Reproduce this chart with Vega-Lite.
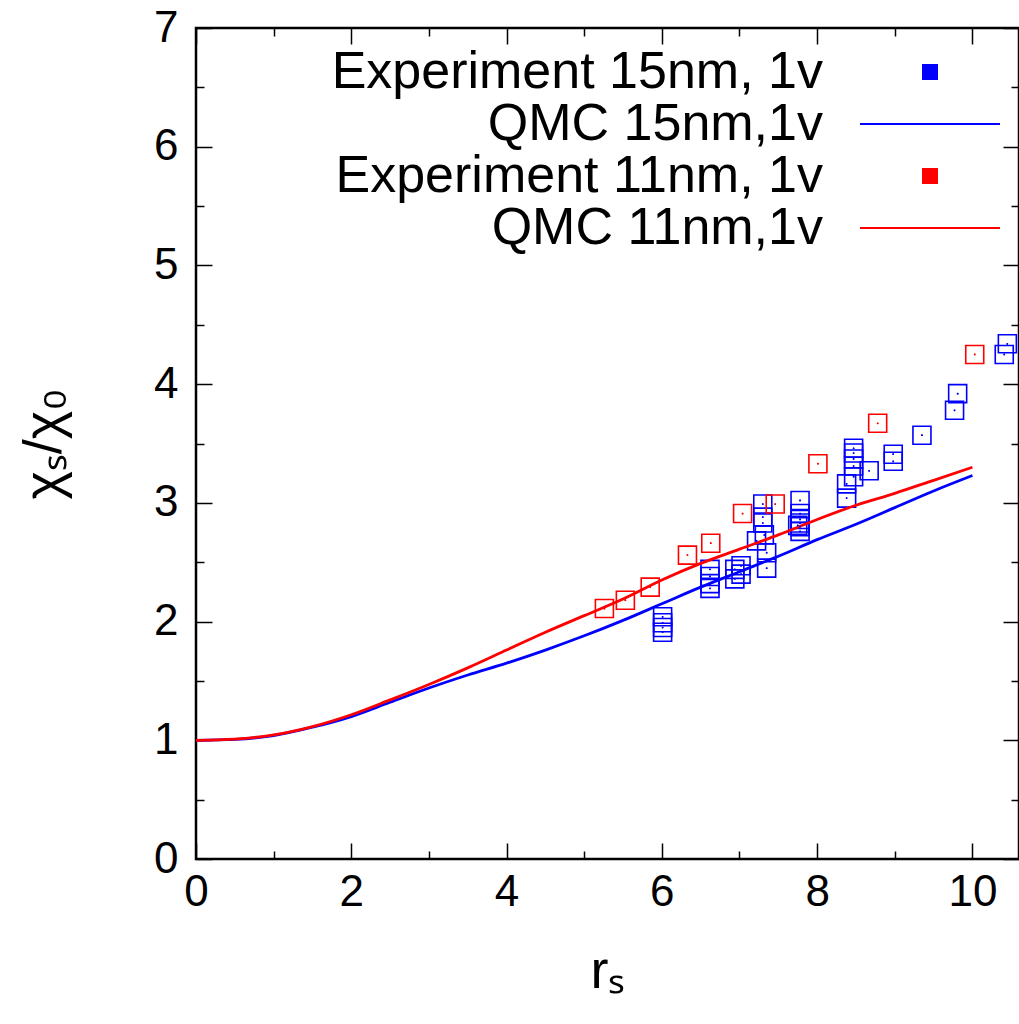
{
  "$schema": "https://vega.github.io/schema/vega-lite/v6.json",
  "width": 823,
  "height": 831,
  "autosize": {"type": "none"},
  "padding": {"left": 196, "top": 28, "right": 0, "bottom": 165},
  "background": "white",
  "config": {
    "view": {"stroke": "black", "strokeWidth": 2.5},
    "font": "Liberation Sans",
    "axis": {"grid": false, "domain": false, "tickColor": "black", "tickWidth": 1.5, "labelColor": "black", "titleColor": "black", "labelFont": "Liberation Sans", "titleFont": "Liberation Sans", "titleFontWeight": "normal", "labelFlush": false, "labelOverlap": false}
  },
  "datasets": {
    "qmc": [
      {"series": "QMC 15nm,1v", "r": 0, "chi": 1.0},
      {"series": "QMC 15nm,1v", "r": 0.5, "chi": 1.008},
      {"series": "QMC 15nm,1v", "r": 1, "chi": 1.04},
      {"series": "QMC 15nm,1v", "r": 1.5, "chi": 1.11},
      {"series": "QMC 15nm,1v", "r": 2, "chi": 1.2},
      {"series": "QMC 15nm,1v", "r": 2.5, "chi": 1.32},
      {"series": "QMC 15nm,1v", "r": 3, "chi": 1.44},
      {"series": "QMC 15nm,1v", "r": 3.5, "chi": 1.55},
      {"series": "QMC 15nm,1v", "r": 4, "chi": 1.65},
      {"series": "QMC 15nm,1v", "r": 4.5, "chi": 1.76},
      {"series": "QMC 15nm,1v", "r": 5, "chi": 1.88},
      {"series": "QMC 15nm,1v", "r": 5.5, "chi": 2.01},
      {"series": "QMC 15nm,1v", "r": 6, "chi": 2.15},
      {"series": "QMC 15nm,1v", "r": 6.5, "chi": 2.29},
      {"series": "QMC 15nm,1v", "r": 7, "chi": 2.42},
      {"series": "QMC 15nm,1v", "r": 7.5, "chi": 2.55},
      {"series": "QMC 15nm,1v", "r": 8, "chi": 2.69},
      {"series": "QMC 15nm,1v", "r": 8.5, "chi": 2.82},
      {"series": "QMC 15nm,1v", "r": 9, "chi": 2.96},
      {"series": "QMC 15nm,1v", "r": 9.5, "chi": 3.1},
      {"series": "QMC 15nm,1v", "r": 10, "chi": 3.23},
      {"series": "QMC 11nm,1v", "r": 0, "chi": 1.0},
      {"series": "QMC 11nm,1v", "r": 0.5, "chi": 1.01},
      {"series": "QMC 11nm,1v", "r": 1, "chi": 1.045},
      {"series": "QMC 11nm,1v", "r": 1.5, "chi": 1.115},
      {"series": "QMC 11nm,1v", "r": 2, "chi": 1.215},
      {"series": "QMC 11nm,1v", "r": 2.5, "chi": 1.34},
      {"series": "QMC 11nm,1v", "r": 3, "chi": 1.47},
      {"series": "QMC 11nm,1v", "r": 3.5, "chi": 1.61},
      {"series": "QMC 11nm,1v", "r": 4, "chi": 1.76},
      {"series": "QMC 11nm,1v", "r": 4.5, "chi": 1.91},
      {"series": "QMC 11nm,1v", "r": 5, "chi": 2.05},
      {"series": "QMC 11nm,1v", "r": 5.5, "chi": 2.19},
      {"series": "QMC 11nm,1v", "r": 6, "chi": 2.35},
      {"series": "QMC 11nm,1v", "r": 6.5, "chi": 2.49},
      {"series": "QMC 11nm,1v", "r": 7, "chi": 2.61},
      {"series": "QMC 11nm,1v", "r": 7.5, "chi": 2.73},
      {"series": "QMC 11nm,1v", "r": 8, "chi": 2.86},
      {"series": "QMC 11nm,1v", "r": 8.5, "chi": 2.98},
      {"series": "QMC 11nm,1v", "r": 9, "chi": 3.08},
      {"series": "QMC 11nm,1v", "r": 9.5, "chi": 3.19},
      {"series": "QMC 11nm,1v", "r": 10, "chi": 3.3}
    ],
    "exp": [
      {"series": "Experiment 15nm, 1v", "r": 6.01, "chi": 2.04},
      {"series": "Experiment 15nm, 1v", "r": 6.01, "chi": 1.99},
      {"series": "Experiment 15nm, 1v", "r": 6.01, "chi": 1.95},
      {"series": "Experiment 15nm, 1v", "r": 6.01, "chi": 1.91},
      {"series": "Experiment 15nm, 1v", "r": 6.62, "chi": 2.44},
      {"series": "Experiment 15nm, 1v", "r": 6.62, "chi": 2.38},
      {"series": "Experiment 15nm, 1v", "r": 6.62, "chi": 2.32},
      {"series": "Experiment 15nm, 1v", "r": 6.62, "chi": 2.28},
      {"series": "Experiment 15nm, 1v", "r": 6.94, "chi": 2.44},
      {"series": "Experiment 15nm, 1v", "r": 6.94, "chi": 2.36},
      {"series": "Experiment 15nm, 1v", "r": 7.02, "chi": 2.47},
      {"series": "Experiment 15nm, 1v", "r": 7.02, "chi": 2.4},
      {"series": "Experiment 15nm, 1v", "r": 7.22, "chi": 2.68},
      {"series": "Experiment 15nm, 1v", "r": 7.3, "chi": 2.99},
      {"series": "Experiment 15nm, 1v", "r": 7.3, "chi": 2.88},
      {"series": "Experiment 15nm, 1v", "r": 7.3, "chi": 2.83},
      {"series": "Experiment 15nm, 1v", "r": 7.32, "chi": 2.73},
      {"series": "Experiment 15nm, 1v", "r": 7.35, "chi": 2.58},
      {"series": "Experiment 15nm, 1v", "r": 7.35, "chi": 2.45},
      {"series": "Experiment 15nm, 1v", "r": 7.78, "chi": 3.02},
      {"series": "Experiment 15nm, 1v", "r": 7.78, "chi": 2.91},
      {"series": "Experiment 15nm, 1v", "r": 7.78, "chi": 2.86},
      {"series": "Experiment 15nm, 1v", "r": 7.78, "chi": 2.83},
      {"series": "Experiment 15nm, 1v", "r": 7.78, "chi": 2.8},
      {"series": "Experiment 15nm, 1v", "r": 7.78, "chi": 2.76},
      {"series": "Experiment 15nm, 1v", "r": 7.75, "chi": 2.81},
      {"series": "Experiment 15nm, 1v", "r": 8.38, "chi": 3.16},
      {"series": "Experiment 15nm, 1v", "r": 8.38, "chi": 3.04},
      {"series": "Experiment 15nm, 1v", "r": 8.47, "chi": 3.46},
      {"series": "Experiment 15nm, 1v", "r": 8.47, "chi": 3.42},
      {"series": "Experiment 15nm, 1v", "r": 8.47, "chi": 3.37},
      {"series": "Experiment 15nm, 1v", "r": 8.47, "chi": 3.31},
      {"series": "Experiment 15nm, 1v", "r": 8.47, "chi": 3.22},
      {"series": "Experiment 15nm, 1v", "r": 8.67, "chi": 3.27},
      {"series": "Experiment 15nm, 1v", "r": 8.98, "chi": 3.41},
      {"series": "Experiment 15nm, 1v", "r": 8.98, "chi": 3.35},
      {"series": "Experiment 15nm, 1v", "r": 9.35, "chi": 3.57},
      {"series": "Experiment 15nm, 1v", "r": 9.77, "chi": 3.78},
      {"series": "Experiment 15nm, 1v", "r": 9.81, "chi": 3.92},
      {"series": "Experiment 15nm, 1v", "r": 10.41, "chi": 4.25},
      {"series": "Experiment 15nm, 1v", "r": 10.45, "chi": 4.34},
      {"series": "Experiment 11nm, 1v", "r": 5.26, "chi": 2.11},
      {"series": "Experiment 11nm, 1v", "r": 5.53, "chi": 2.18},
      {"series": "Experiment 11nm, 1v", "r": 5.85, "chi": 2.29},
      {"series": "Experiment 11nm, 1v", "r": 6.33, "chi": 2.56},
      {"series": "Experiment 11nm, 1v", "r": 6.63, "chi": 2.66},
      {"series": "Experiment 11nm, 1v", "r": 7.04, "chi": 2.91},
      {"series": "Experiment 11nm, 1v", "r": 7.46, "chi": 2.99},
      {"series": "Experiment 11nm, 1v", "r": 8.01, "chi": 3.33},
      {"series": "Experiment 11nm, 1v", "r": 8.78, "chi": 3.67},
      {"series": "Experiment 11nm, 1v", "r": 10.03, "chi": 4.25}
    ]
  },
  "resolve": {"axis": {"x": "independent", "y": "independent"}},
  "layer": [
    {
      "data": {"name": "exp"},
      "mark": {"type": "point", "filled": false, "size": 324, "strokeWidth": 1.6, "opacity": 1, "clip": true},
      "encoding": {
        "x": {"field": "r", "type": "quantitative", "scale": {"domain": [0, 10.6], "nice": false, "zero": false},
          "axis": {"orient": "bottom", "values": [0, 2, 4, 6, 8, 10], "format": "d", "tickSize": -16, "labelFontSize": 44, "labelPadding": 27, "title": "rₛ", "titleFontSize": 54, "titlePadding": 30}},
        "y": {"field": "chi", "type": "quantitative", "scale": {"domain": [0, 7], "nice": false, "zero": false},
          "axis": {"orient": "left", "values": [0, 1, 2, 3, 4, 5, 6, 7], "format": "d", "tickSize": -16, "labelFontSize": 44, "labelPadding": 34, "title": "χₛ/χ₀", "titleFontSize": 54, "titlePadding": 82}},
        "stroke": {"field": "series", "type": "nominal",
          "scale": {"domain": ["Experiment 15nm, 1v", "QMC 15nm,1v", "Experiment 11nm, 1v", "QMC 11nm,1v"], "range": ["#0000ff", "#0000ff", "#ff0000", "#ff0000"]},
          "legend": {"orient": "none", "legendX": 708, "legendY": 18, "title": null, "padding": 0, "labelFont": "Liberation Sans", "labelFontSize": 52, "labelColor": "black", "labelAlign": "right", "labelOffset": -133, "labelLimit": 2000, "rowPadding": 0, "symbolSize": 196, "symbolStrokeWidth": 2, "symbolFillColor": "transparent"}},
        "shape": {"field": "series", "type": "nominal",
          "scale": {"domain": ["Experiment 15nm, 1v", "QMC 15nm,1v", "Experiment 11nm, 1v", "QMC 11nm,1v"], "range": ["square", "M -10 0 L 10 0", "square", "M -10 0 L 10 0"]},
          "legend": {"orient": "none", "legendX": 708, "legendY": 18, "title": null, "padding": 0, "labelFont": "Liberation Sans", "labelFontSize": 52, "labelColor": "black", "labelAlign": "right", "labelOffset": -133, "labelLimit": 2000, "rowPadding": 0, "symbolSize": 196, "symbolStrokeWidth": 2, "symbolFillColor": "transparent"}}
      }
    },
    {
      "data": {"name": "qmc"},
      "mark": {"type": "line", "strokeWidth": 2.8, "clip": true, "interpolate": "monotone"},
      "encoding": {
        "x": {"field": "r", "type": "quantitative", "axis": {"orient": "bottom", "values": [1, 3, 5, 7, 9], "tickSize": -8, "labels": false, "title": null}},
        "y": {"field": "chi", "type": "quantitative", "axis": {"orient": "left", "values": [0.5, 1.5, 2.5, 3.5, 4.5, 5.5, 6.5], "tickSize": -8, "labels": false, "title": null}},
        "stroke": {"field": "series", "type": "nominal"}
      }
    },
    {
      "data": {"name": "exp"},
      "mark": {"type": "point", "shape": "circle", "filled": true, "size": 3, "opacity": 1, "clip": true},
      "encoding": {
        "x": {"field": "r", "type": "quantitative", "axis": {"orient": "top", "values": [0, 2, 4, 6, 8, 10], "tickSize": -16, "labels": false, "title": null}},
        "y": {"field": "chi", "type": "quantitative", "axis": {"orient": "right", "values": [0, 1, 2, 3, 4, 5, 6, 7], "tickSize": -16, "labels": false, "title": null}},
        "color": {"field": "series", "type": "nominal", "scale": {"domain": ["Experiment 15nm, 1v", "QMC 15nm,1v", "Experiment 11nm, 1v", "QMC 11nm,1v"], "range": ["#0000ff", "#0000ff", "#ff0000", "#ff0000"]}, "legend": null}
      }
    },
    {
      "data": {"name": "exp"},
      "mark": {"type": "point", "shape": "circle", "filled": true, "size": 3, "opacity": 1, "clip": true},
      "encoding": {
        "x": {"field": "r", "type": "quantitative", "axis": {"orient": "top", "values": [1, 3, 5, 7, 9], "tickSize": -8, "labels": false, "title": null}},
        "y": {"field": "chi", "type": "quantitative", "axis": {"orient": "right", "values": [0.5, 1.5, 2.5, 3.5, 4.5, 5.5, 6.5], "tickSize": -8, "labels": false, "title": null}},
        "color": {"field": "series", "type": "nominal", "legend": null}
      }
    }
  ]
}
